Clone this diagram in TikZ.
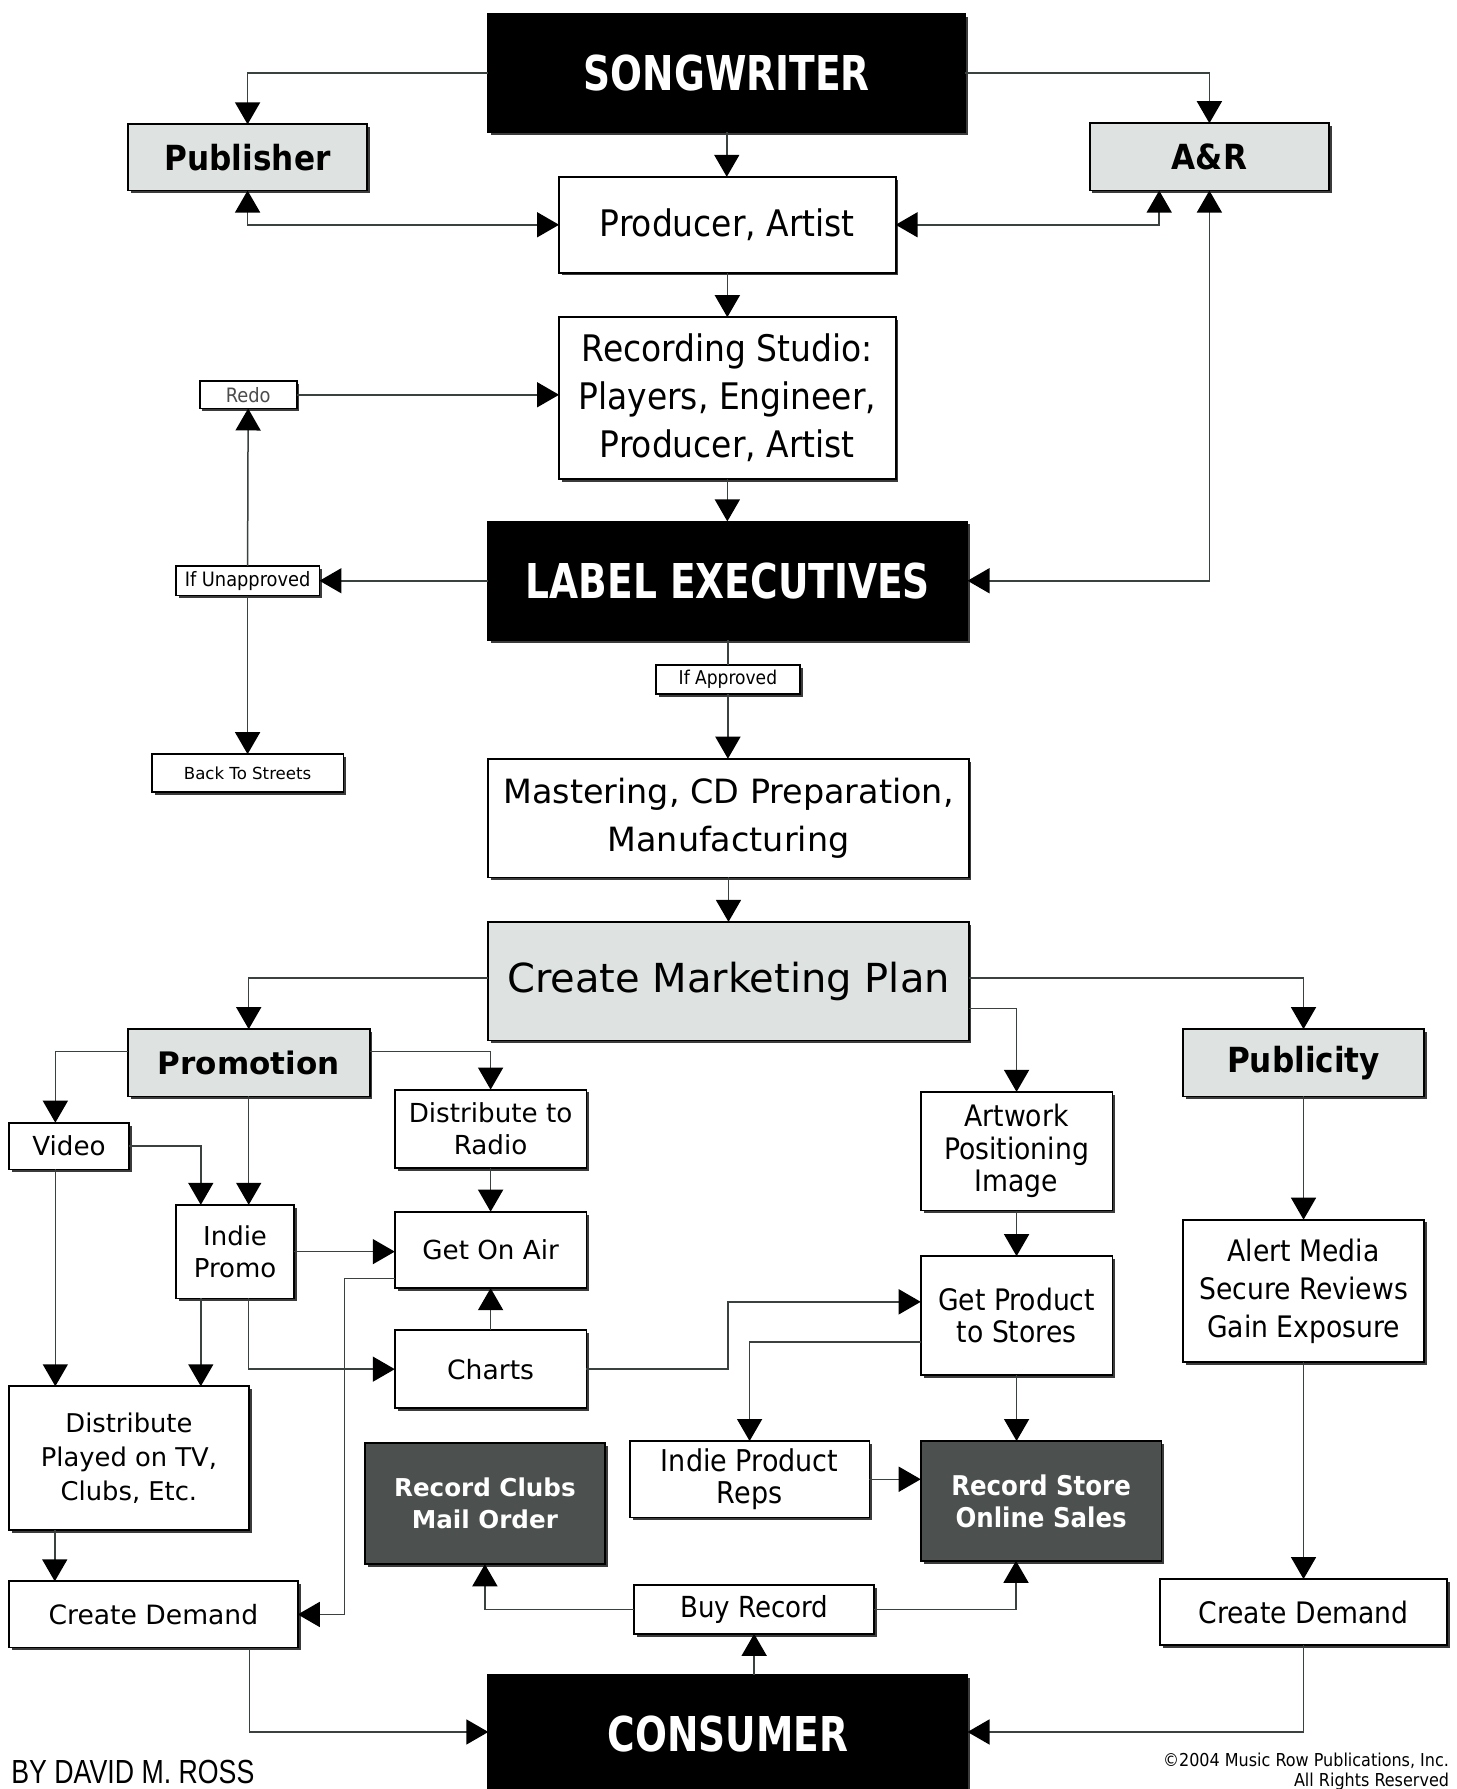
\documentclass[tikz,border=0pt]{standalone}
\usepackage{fontspec}
\setmainfont{DejaVu Sans}
\newfontfamily\cnd[BoldFont={DejaVu Sans Condensed Bold}]{DejaVu Sans Condensed}
\newfontfamily\ttl[FakeStretch=0.87]{DejaVu Sans Condensed Bold}
\newfontfamily\narrowf[FakeStretch=0.8]{Liberation Sans}
\usetikzlibrary{arrows.meta,calc,shadows}
\definecolor{lgray}{HTML}{DEE3E1}
\definecolor{dgray}{HTML}{4C514F}
\definecolor{lncol}{HTML}{3A4240}
\newcommand\mybox[7]{%
 \pgfmathsetmacro\bxw{(#4-#2)*0.5705}%
 \pgfmathsetmacro\bxh{(#5-#3)*0.5705}%
 \node[#6, minimum width=\bxw pt, minimum height=\bxh pt] (#1) at ({(#2+#4)/2},{(#3+#5)/2}) {#7};}
\tikzset{
 bx/.style={draw=black, line width=0.9pt, fill=white, align=center, inner sep=0pt, outer sep=0pt, text=black,
   drop shadow={shadow xshift=1.4pt, shadow yshift=-1.4pt, fill=black!85, opacity=0.9}},
 lbx/.style={bx, fill=lgray},
 dbx/.style={bx, fill=dgray, text=white},
 kbx/.style={bx, fill=black, text=white, font=\ttl\fontsize{24}{28}\selectfont},
 ln/.style={draw=lncol, line width=0.75pt},
 arr/.style={ln, -{Triangle[length=11pt,width=12.5pt,color=black]}},
 darr/.style={ln, {Triangle[length=11pt,width=12.5pt,color=black]}-{Triangle[length=11pt,width=12.5pt,color=black]}},
 foot/.style={inner sep=0pt, outer sep=0pt, text=black}
}
\begin{document}
\begin{tikzpicture}[x=0.5705pt,y=-0.5705pt]
\useasboundingbox (0,0) rectangle (1277,1568);
\clip (0,0) rectangle (1277,1568);
\fill[white] (0,0) rectangle (1277,1568);
% boxes
\mybox{song}{428}{12}{846}{116}{kbx}{SONGWRITER}
\mybox{pub}{112}{109}{322}{167}{lbx,font=\cnd\bfseries\fontsize{17.3}{20}\selectfont}{Publisher}
\mybox{ar}{955}{108}{1165}{167}{lbx,font=\cnd\bfseries\fontsize{17.3}{20}\selectfont}{A\&R}
\mybox{prod}{490}{155}{785}{239}{bx,font=\cnd\fontsize{18.3}{24}\selectfont}{Producer, Artist}
\mybox{rec}{490}{278}{785}{420}{bx,font=\cnd\fontsize{18.3}{24}\selectfont}{Recording Studio:\\Players, Engineer,\\Producer, Artist}
\mybox{redo}{175}{334}{260}{358}{bx,text=black!70,font=\cnd\fontsize{9.9}{12}\selectfont}{Redo}
\mybox{label}{428}{457}{848}{561}{kbx}{LABEL EXECUTIVES}
\mybox{unapp}{154}{496}{280}{522}{bx,font=\cnd\fontsize{9.9}{12}\selectfont}{If Unapproved}
\mybox{app}{575}{583}{701}{608}{bx,font=\cnd\fontsize{9.5}{12}\selectfont}{If Approved}
\mybox{back}{133}{661}{301}{694}{bx,font=\fontsize{8.3}{10}\selectfont}{Back To Streets}
\mybox{mast}{428}{665}{849}{769}{bx,font=\fontsize{16.7}{24}\selectfont}{Mastering, CD Preparation,\\Manufacturing}
\mybox{mkt}{428}{808}{849}{912}{lbx,font=\fontsize{20}{24}\selectfont}{Create Marketing Plan}
\mybox{promo}{112}{902}{324}{961}{lbx,font=\bfseries\fontsize{15.5}{19}\selectfont}{Promotion}
\mybox{publ}{1037}{902}{1248}{961}{lbx,font=\cnd\bfseries\fontsize{17.3}{20}\selectfont}{Publicity}
\mybox{video}{8}{984}{113}{1025}{bx,font=\fontsize{13.1}{16}\selectfont}{Video}
\mybox{dradio}{346}{955}{514}{1024}{bx,font=\fontsize{13.1}{16}\selectfont}{Distribute to\\Radio}
\mybox{art}{807}{957}{975}{1061}{bx,font=\cnd\fontsize{14.8}{16.3}\selectfont}{Artwork\\Positioning\\Image}
\mybox{indie}{154}{1056}{258}{1138}{bx,font=\fontsize{13}{16}\selectfont}{Indie\\Promo}
\mybox{getair}{346}{1062}{514}{1129}{bx,font=\fontsize{13.1}{16}\selectfont}{Get On Air}
\mybox{alert}{1037}{1069}{1248}{1194}{bx,font=\cnd\fontsize{14.8}{19}\selectfont}{Alert Media\\Secure Reviews\\Gain Exposure}
\mybox{gps}{807}{1101}{975}{1205}{bx,font=\cnd\fontsize{14.8}{16.3}\selectfont}{Get Product\\to Stores}
\mybox{charts}{346}{1166}{514}{1234}{bx,font=\fontsize{13.3}{16}\selectfont}{Charts}
\mybox{dtv}{8}{1215}{218}{1341}{bx,font=\fontsize{12.9}{16.8}\selectfont}{Distribute\\Played on TV,\\Clubs, Etc.}
\mybox{rclubs}{320}{1265}{530}{1371}{dbx,font=\bfseries\fontsize{12.3}{16}\selectfont}{Record Clubs\\Mail Order}
\mybox{ipr}{552}{1263}{762}{1330}{bx,font=\cnd\fontsize{15}{16.3}\selectfont}{Indie Product\\Reps}
\mybox{rstore}{807}{1263}{1018}{1368}{dbx,font=\cnd\bfseries\fontsize{13.6}{16}\selectfont}{Record Store\\Online Sales}
\mybox{cdl}{8}{1386}{261}{1444}{bx,font=\fontsize{13.3}{16}\selectfont}{Create Demand}
\mybox{buy}{556}{1389}{766}{1432}{bx,font=\cnd\fontsize{14.5}{16}\selectfont}{Buy Record}
\mybox{cdr}{1017}{1384}{1268}{1442}{bx,font=\cnd\fontsize{14.8}{16}\selectfont}{Create Demand}
\mybox{cons}{428}{1468}{848}{1572}{kbx}{CONSUMER}
% footers
\node[foot,anchor=base west,font=\narrowf\fontsize{16.7}{18}\selectfont] (by) at (10,1563) {BY DAVID M. ROSS};
\node[foot,anchor=base east,font=\cnd\fontsize{8.9}{10}\selectfont] (copy1) at (1270,1548) {\textcopyright2004 Music Row Publications, Inc.};
\node[foot,anchor=base east,font=\cnd\fontsize{8.9}{10}\selectfont] (copy2) at (1270,1566) {All Rights Reserved};
% connectors
\draw[arr] (song.west) -| (pub.north);
\draw[arr] (song.east) -| (ar.north);
\draw[arr] (song.south) -- (song.south |- prod.north);
\draw[darr] (pub.south) |- (prod.west);
\draw[darr] (prod.east) -| ($(ar.south)+(-44,0)$);
\draw[darr] (label.east) -| (ar.south);
\draw[arr] (prod.south) -- (prod.south |- rec.north);
\draw[arr] (rec.south) -- (rec.south |- label.north);
\draw[arr] (redo.east) -- (redo.east -| rec.west);
\draw[arr] (label.west) -- (label.west -| unapp.east);
\draw[arr] (unapp.north) -- (redo.south);
\draw[arr] (unapp.south) -- (back.north);
\draw[ln] (label.south) -- (label.south |- app.north);
\draw[arr] (app.south) -- (app.south |- mast.north);
\draw[arr] (mast.south) -- (mast.south |- mkt.north);
\draw[arr] ($(mkt.west)+(0,-3)$) -| (promo.north);
\draw[arr] ($(mkt.east)+(0,-3)$) -| (publ.north);
\draw[arr] ($(mkt.east)+(0,24)$) -| (art.north);
\draw[arr] ($(promo.west)+(0,-10)$) -| ($(video.north)+(-12,0)$);
\draw[arr] ($(promo.east)+(0,-10)$) -| (dradio.north);
\draw[arr] (promo.south) -- (promo.south |- indie.north);
\draw[arr] (video.east) -| ($(indie.north)+(-30,0)$);
\draw[arr] ($(video.south)+(-12,0)$) -- ($(video.south |- dtv.north)+(-12,0)$);
\draw[arr] (dradio.south) -- (getair.north);
\draw[arr] (indie.east) -- (indie.east -| getair.west);
\draw[arr] ($(indie.south)+(-30,0)$) -- ($(indie.south |- dtv.north)+(-30,0)$);
\draw[arr] ($(indie.south)+(12,0)$) |- (charts.west);
\draw[arr] (charts.north) -- (getair.south);
\draw[arr] ($(getair.west)+(0,25)$) -| ($(cdl.east)+(41,0)$) -- (cdl.east);
\draw[arr] (charts.east) -| ($(gps.west)+(-169,-12)$) -- ($(gps.west)+(0,-12)$);
\draw[arr] ($(gps.west)+(0,23)$) -| (ipr.north);
\draw[arr] (gps.south) -- (gps.south |- rstore.north);
\draw[arr] (art.south) -- (gps.north);
\draw[arr] (ipr.east) -- (ipr.east -| rstore.west);
\draw[arr] (publ.south) -- (alert.north);
\draw[arr] (alert.south) -- (alert.south |- cdr.north);
\draw[arr] ($(dtv.south)+(-65,0)$) -- ($(dtv.south |- cdl.north)+(-65,0)$);
\draw[arr] ($(cdl.south)+(84,0)$) |- ($(cons.west)+(0,-2)$);
\draw[arr] (cdr.south) |- ($(cons.east)+(0,-2)$);
\draw[arr] (buy.south |- cons.north) -- (buy.south);
\draw[arr] (buy.west) -| (rclubs.south);
\draw[arr] (buy.east) -| ($(rstore.south)+(-22,0)$);
\end{tikzpicture}
\end{document}
